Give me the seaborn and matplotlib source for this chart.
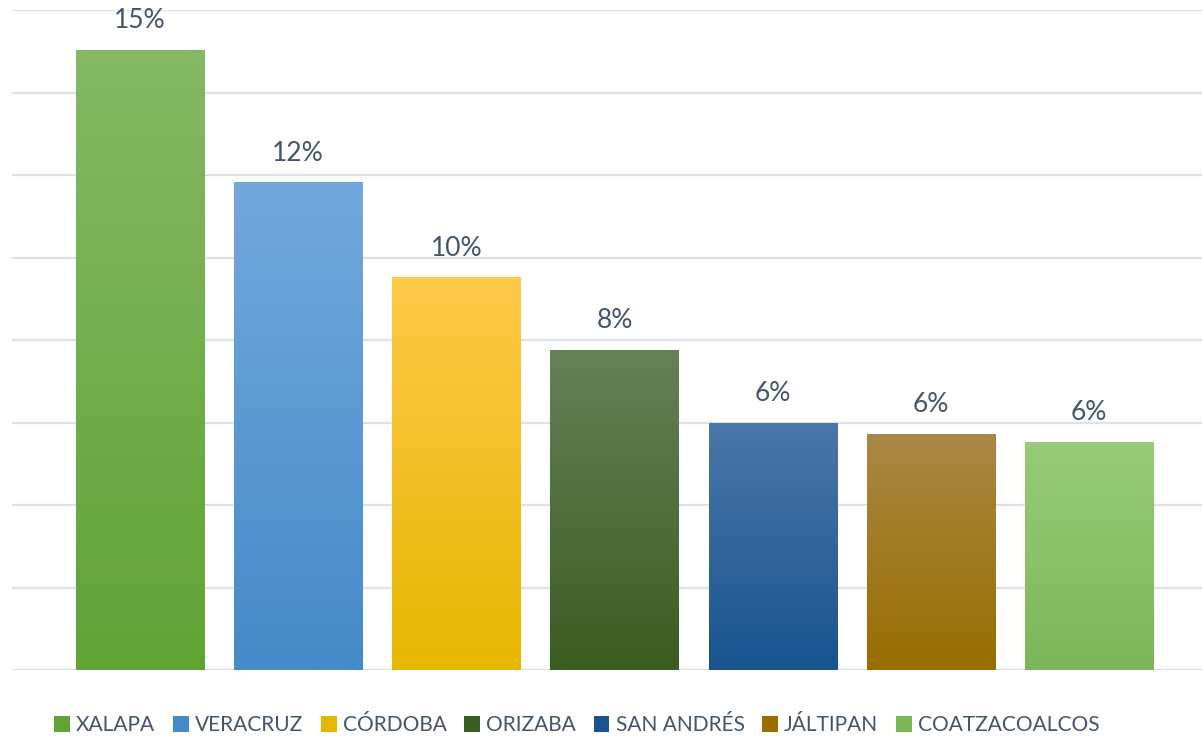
import numpy as np
import pandas as pd
import seaborn as sns
import matplotlib.pyplot as plt
from matplotlib.colors import LinearSegmentedColormap
from matplotlib.patches import Patch

# data (percent)
cities = ['XALAPA', 'VERACRUZ', 'CÓRDOBA', 'ORIZABA', 'SAN ANDRÉS', 'JÁLTIPAN', 'COATZACOALCOS']
shares = [15.03, 11.82, 9.52, 7.76, 6.0, 5.72, 5.53]
labels = ['15%', '12%', '10%', '8%', '6%', '6%', '6%']

# gradient colours: (top, bottom)
tops = ['#85b964', '#72a9dd', '#ffc94a', '#65815a', '#4b77a9', '#aa8744', '#99cb78']
bottoms = ['#62a336', '#458ac9', '#e6b700', '#3a5d21', '#19548f', '#986e00', '#7db658']

text_col = '#44546a'
plt.rcParams['font.family'] = ['Lato', 'DejaVu Sans']

df = pd.DataFrame({'city': cities, 'share': shares})

fig = plt.figure(figsize=(12.02, 7.37), dpi=100)
ax = fig.add_axes([12 / 1202, 67 / 737, 1 - 12 / 1202, 660 / 737])

sns.barplot(data=df, x='city', y='share', hue='city', palette=bottoms,
            width=0.81, legend=False, ax=ax, saturation=1)

ax.set_ylim(0, 16)
ax.set_xlim(-0.81, 6.715)
ax.set_yticks(np.arange(0, 17, 2))
ax.yaxis.grid(True, color='#dde2ea', lw=1.6)
ax.set_axisbelow(True)
for s in ax.spines.values():
    s.set_visible(False)
ax.tick_params(left=False, bottom=False, labelleft=False, labelbottom=False)
ax.set_xlabel('')
ax.set_ylabel('')

# gradient fill for each bar
for bar, top, bot in zip(ax.patches, tops, bottoms):
    x0, y0 = bar.get_x(), bar.get_y()
    w, h = bar.get_width(), bar.get_height()
    cmap = LinearSegmentedColormap.from_list('g', [bot, top])
    grad = np.linspace(0, 1, 256).reshape(-1, 1)
    im = ax.imshow(grad, cmap=cmap, aspect='auto', origin='lower',
                   extent=[x0, x0 + w, y0, y0 + h], zorder=bar.get_zorder() + 0.1)
    im.set_clip_path(bar)

for i, (v, lab) in enumerate(zip(shares, labels)):
    ax.annotate(lab, (i, v), xytext=(0, 12), textcoords='offset points',
                ha='center', va='bottom', fontsize=19, color=text_col)

handles = [Patch(facecolor=b, edgecolor='none') for b in bottoms]
fig.legend(handles, cities, loc='center', bbox_to_anchor=(0.48, 0.016),
           ncol=7, frameon=False, fontsize=15, labelcolor=text_col,
           handlelength=0.75, handleheight=0.75, handletextpad=0.3,
           columnspacing=0.85)

fig.savefig('out.png', dpi=100)
